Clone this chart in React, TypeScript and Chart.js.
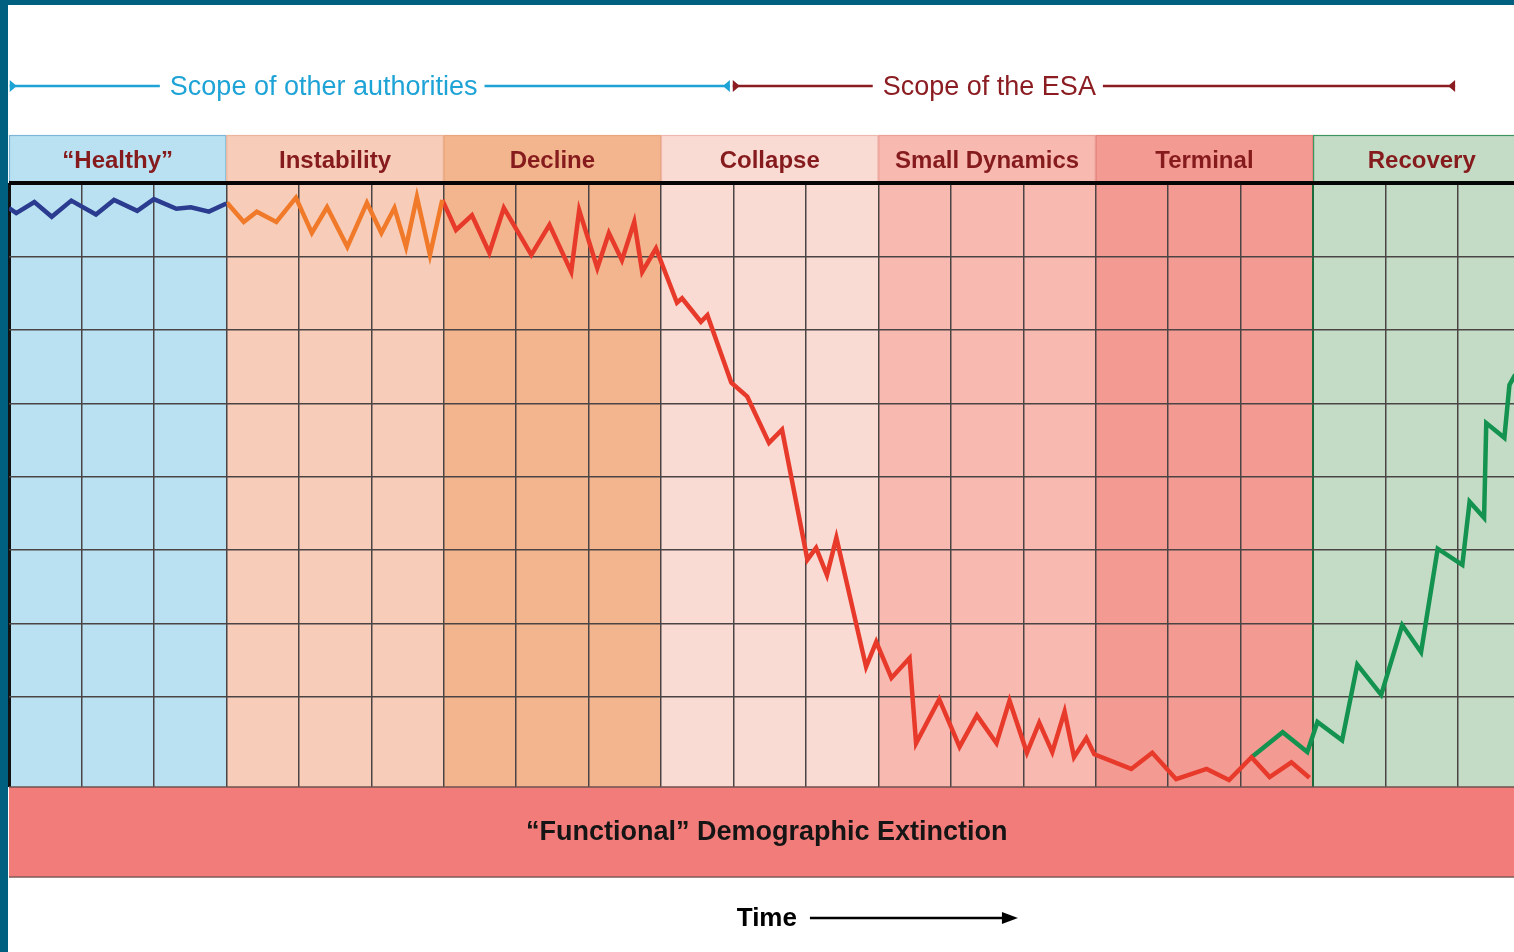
import React, { useEffect, useRef } from 'react';
import { Chart, registerables } from 'chart.js';

Chart.register(...registerables);

// ---------- data ----------
const PHASES = ['“Healthy”', 'Instability', 'Decline', 'Collapse', 'Small Dynamics', 'Terminal', 'Recovery'];
const PHASE_START = [0, 3, 6, 9, 12, 15, 18];
const PHASE_END = [3, 6, 9, 12, 15, 18, 21];

const X_TICKS = [0, 1, 2, 3, 4, 5, 6, 7, 8, 9, 10, 11, 12, 13, 14, 15, 16, 17, 18, 19, 20];
const Y_TICKS = [0, 1, 2, 3, 4, 5, 6, 7];

const HEALTHY_X = [0, 0.10, 0.35, 0.59, 0.86, 1.20, 1.45, 1.77, 2.00, 2.31, 2.51, 2.76, 3.00];
const HEALTHY_Y = [6.66, 6.59, 6.74, 6.54, 6.76, 6.57, 6.77, 6.62, 6.78, 6.65, 6.67, 6.61, 6.72];

const INSTABILITY_X = [3.01, 3.24, 3.42, 3.69, 3.96, 4.18, 4.39, 4.67, 4.94, 5.14, 5.32, 5.48, 5.63, 5.81, 5.98];
const INSTABILITY_Y = [6.73, 6.47, 6.61, 6.47, 6.80, 6.32, 6.67, 6.13, 6.73, 6.32, 6.66, 6.13, 6.81, 6.02, 6.77];

const DECLINE_X = [
  5.98, 6.17, 6.39, 6.63, 6.83, 7.21, 7.46, 7.76, 7.87, 8.12, 8.28, 8.46, 8.63, 8.74, 8.93,
  9.22, 9.29, 9.55, 9.64, 9.97, 10.19, 10.49, 10.67, 11.02, 11.14, 11.29, 11.42,
  11.83, 11.97, 12.18, 12.43, 12.52, 12.84, 13.12, 13.36, 13.63, 13.81, 14.05, 14.22, 14.40, 14.57, 14.70, 14.87, 14.98,
  15.49, 15.78, 16.11, 16.53, 16.84, 17.15, 17.40, 17.70, 17.95,
];
const DECLINE_Y = [
  6.77, 6.36, 6.56, 6.05, 6.66, 6.02, 6.43, 5.79, 6.63, 5.84, 6.32, 5.95, 6.47, 5.79, 6.11,
  5.37, 5.43, 5.11, 5.20, 4.28, 4.09, 3.46, 3.64, 1.87, 2.03, 1.66, 2.17,
  0.41, 0.75, 0.26, 0.53, -0.63, -0.03, -0.68, -0.25, -0.63, -0.05, -0.76, -0.35, -0.75, -0.20, -0.82, -0.56, -0.78,
  -0.98, -0.76, -1.12, -0.98, -1.13, -0.82, -1.09, -0.89, -1.10,
];

const RECOVERY_X = [17.15, 17.58, 17.92, 18.06, 18.40, 18.61, 18.94, 19.23, 19.49, 19.72, 20.06, 20.16, 20.36, 20.39, 20.64, 20.71, 20.79];
const RECOVERY_Y = [-0.82, -0.48, -0.75, -0.34, -0.59, 0.44, 0.03, 0.98, 0.61, 2.02, 1.80, 2.66, 2.44, 3.73, 3.53, 4.25, 4.39];

const SCOPE_LABELS = ['Scope of other authorities', 'Scope of the ESA'];
const SCOPE_FROM = [0.01, 9.99];
const SCOPE_TO = [9.95, 19.96];
const SCOPE_TEXT_AT = [2.22, 12.06];

const EXTINCTION_LABEL = '“Functional” Demographic Extinction';
const TIME_LABEL = 'Time';
const LABEL_CENTER = 10.46;

// ---------- styles ----------
const W = 1514;
const H = 952;
const LEFT = 9;
const UNIT_X = 72.45;
const FONT = '"Liberation Sans", Arial, Helvetica, sans-serif';
const PHASE_FILL = ['#b9e1f1', '#f7cdb9', '#f2b58e', '#fadbd4', '#f8b9b1', '#f39b93', '#c4dcc5'];
const PHASE_EDGE = ['#7db6d4', '#eab59b', '#e9a57c', '#eeb8ae', '#eb9f97', '#e5857d', '#3c9660'];
const SCOPE_COLORS = ['#1ea3d6', '#8b1d22'];
const X_MIN = 0;
const X_MAX = (W - LEFT) / UNIT_X;
const Y_MIN = -90 / 73.43;
const Y_MAX = 7;

function toPts(xs: number[], ys: number[]) {
  return xs.map((x, i) => ({ x, y: ys[i] }));
}

const decorPlugin = {
  id: 'decor',
  beforeDraw(chart: any) {
    const { ctx, chartArea } = chart;
    const { left, right, top, bottom } = chartArea;
    const xs = chart.scales.x;
    ctx.save();
    ctx.fillStyle = '#ffffff';
    ctx.fillRect(0, 0, W, H);

    // phase columns + header cells
    PHASES.forEach((name, i) => {
      const a = xs.getPixelForValue(PHASE_START[i]);
      const b = xs.getPixelForValue(PHASE_END[i]);
      const x0 = Math.max(a, left);
      const x1 = Math.min(b, right);
      ctx.fillStyle = PHASE_FILL[i];
      ctx.fillRect(x0, top, x1 - x0, bottom - top);
      ctx.fillRect(x0, top - 48, x1 - x0, 48);
      ctx.strokeStyle = PHASE_EDGE[i];
      ctx.lineWidth = 1.2;
      ctx.strokeRect(x0 + 0.5, top - 48 + 0.5, b - x0 - 1, 47);
      ctx.fillStyle = '#861b1e';
      ctx.font = `bold 24px ${FONT}`;
      ctx.textAlign = 'center';
      ctx.textBaseline = 'middle';
      ctx.fillText(name, (a + b) / 2, top - 22);
    });

    // extinction band
    ctx.fillStyle = '#f27c7a';
    ctx.fillRect(left, bottom, right - left, 90);
    ctx.strokeStyle = '#7e5a58';
    ctx.lineWidth = 1.5;
    ctx.beginPath();
    ctx.moveTo(left, bottom + 90);
    ctx.lineTo(right, bottom + 90);
    ctx.stroke();
    ctx.restore();
  },
  afterDraw(chart: any) {
    const { ctx, chartArea } = chart;
    const { left, right, top, bottom } = chartArea;
    const xs = chart.scales.x;
    ctx.save();

    // frame
    ctx.fillStyle = '#00607f';
    ctx.fillRect(0, 0, W, 5);
    ctx.fillRect(0, 0, 8, H);

    // band top edge
    ctx.strokeStyle = '#6e5250';
    ctx.lineWidth = 1.5;
    ctx.beginPath();
    ctx.moveTo(left, bottom);
    ctx.lineTo(right, bottom);
    ctx.stroke();

    // scope lines
    const sy = top - 97;
    SCOPE_LABELS.forEach((label, i) => {
      const color = SCOPE_COLORS[i];
      const a = xs.getPixelForValue(SCOPE_FROM[i]);
      const b = xs.getPixelForValue(SCOPE_TO[i]);
      const t = xs.getPixelForValue(SCOPE_TEXT_AT[i]);
      ctx.font = `27px ${FONT}`;
      const tw = ctx.measureText(label).width;
      ctx.fillStyle = color;
      ctx.textAlign = 'left';
      ctx.textBaseline = 'middle';
      ctx.fillText(label, t, sy + 1.5);
      ctx.strokeStyle = color;
      ctx.lineWidth = 2.5;
      ctx.beginPath();
      ctx.moveTo(a, sy);
      ctx.lineTo(t - 10, sy);
      ctx.moveTo(t + tw + 7, sy);
      ctx.lineTo(b, sy);
      ctx.stroke();
      // end caps
      ctx.beginPath();
      ctx.moveTo(a, sy - 6);
      ctx.lineTo(a, sy + 6);
      ctx.lineTo(a + 7, sy);
      ctx.closePath();
      ctx.moveTo(b, sy - 6);
      ctx.lineTo(b, sy + 6);
      ctx.lineTo(b - 7, sy);
      ctx.closePath();
      ctx.fill();
    });

    // extinction label
    const cx = xs.getPixelForValue(LABEL_CENTER);
    ctx.fillStyle = '#151515';
    ctx.font = `bold 27px ${FONT}`;
    ctx.textAlign = 'center';
    ctx.textBaseline = 'middle';
    ctx.fillText(EXTINCTION_LABEL, cx, bottom + 46);

    // time label + arrow
    const ty = bottom + 131;
    ctx.font = `bold 26px ${FONT}`;
    ctx.fillStyle = '#000';
    ctx.fillText(TIME_LABEL, cx, ty + 1);
    const tw = ctx.measureText(TIME_LABEL).width;
    const ax = cx + tw / 2 + 13;
    ctx.strokeStyle = '#000';
    ctx.lineWidth = 2.5;
    ctx.beginPath();
    ctx.moveTo(ax, ty);
    ctx.lineTo(ax + 196, ty);
    ctx.stroke();
    ctx.beginPath();
    ctx.moveTo(ax + 192, ty - 6);
    ctx.lineTo(ax + 208, ty);
    ctx.lineTo(ax + 192, ty + 6);
    ctx.closePath();
    ctx.fill();
    ctx.restore();
  },
};

export default function App() {
  const ref = useRef<HTMLCanvasElement>(null);
  useEffect(() => {
    if (!ref.current) return;
    const lineBase = {
      pointRadius: 0,
      pointHoverRadius: 0,
      tension: 0,
      borderJoinStyle: 'miter' as const,
      borderCapStyle: 'butt' as const,
      fill: false,
    };
    const chart = new Chart(ref.current, {
      type: 'line',
      data: {
        datasets: [
          { ...lineBase, label: 'Healthy', data: toPts(HEALTHY_X, HEALTHY_Y), borderColor: '#2b3b8f', borderWidth: 4.5 },
          { ...lineBase, label: 'Instability', data: toPts(INSTABILITY_X, INSTABILITY_Y), borderColor: '#f07a2a', borderWidth: 4.5 },
          { ...lineBase, label: 'Decline', data: toPts(DECLINE_X, DECLINE_Y), borderColor: '#e83a2b', borderWidth: 4.5 },
          { ...lineBase, label: 'Recovery', data: toPts(RECOVERY_X, RECOVERY_Y), borderColor: '#13934f', borderWidth: 4.5 },
        ],
      },
      options: {
        animation: false,
        responsive: false,
        maintainAspectRatio: false,
        devicePixelRatio: 1,
        events: [],
        layout: { padding: { left: LEFT, right: 0, top: 183, bottom: H - 787 } },
        plugins: { legend: { display: false }, tooltip: { enabled: false }, title: { display: false } },
        scales: {
          x: {
            type: 'linear',
            min: X_MIN,
            max: X_MAX,
            afterBuildTicks: (s: any) => { s.ticks = X_TICKS.map((v) => ({ value: v })); },
            ticks: { display: false },
            border: { display: false },
            grid: {
              drawTicks: false,
              color: (c: any) => (c.tick && c.tick.value === 0 ? '#111111' : c.tick && c.tick.value === 18 ? '#1c6a3b' : '#4a4444'),
              lineWidth: (c: any) => (c.tick && c.tick.value === 0 ? 3 : c.tick && c.tick.value === 18 ? 2 : 1.5),
            },
          },
          y: {
            type: 'linear',
            min: Y_MIN,
            max: Y_MAX,
            afterBuildTicks: (s: any) => { s.ticks = Y_TICKS.map((v) => ({ value: v })); },
            ticks: { display: false },
            border: { display: false },
            grid: {
              drawTicks: false,
              color: (c: any) => (c.tick && c.tick.value === 7 ? '#050505' : '#4a4444'),
              lineWidth: (c: any) => (c.tick && c.tick.value === 7 ? 4 : 1.5),
            },
          },
        },
      },
      plugins: [decorPlugin],
    });
    return () => chart.destroy();
  }, []);
  return (
    <div style={{ position: 'fixed', left: 0, top: 0, width: W, height: H, background: '#fff', overflow: 'hidden' }}>
      <canvas ref={ref} width={W} height={H} style={{ display: 'block', width: W, height: H }} />
    </div>
  );
}
